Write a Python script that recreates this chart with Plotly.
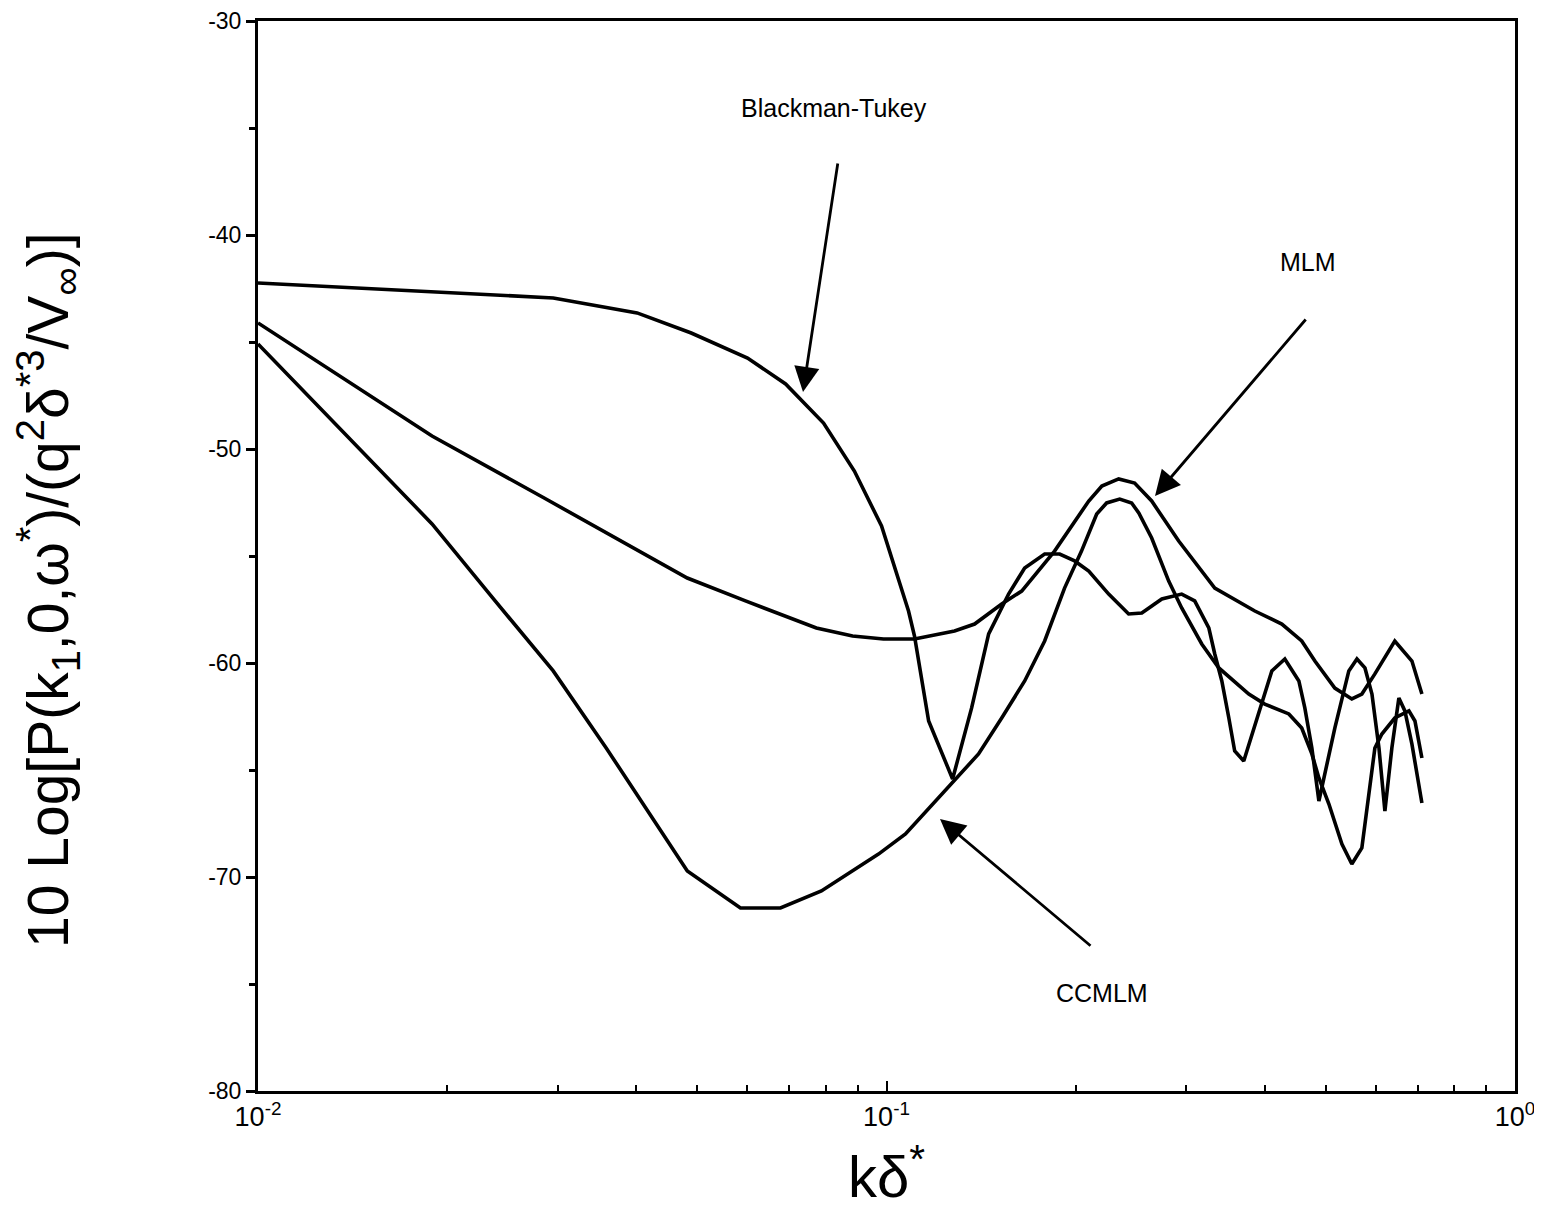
import plotly.graph_objects as go
import numpy as np

# ---- data ----
bt_k = [0.01, 0.0295, 0.0401, 0.0489, 0.0601, 0.0691, 0.0794, 0.0889, 0.0982, 0.1084, 0.1108,
        0.1167, 0.1274, 0.1366, 0.1454, 0.1564, 0.1659, 0.1785, 0.1886, 0.1992, 0.2098, 0.2257,
        0.2428, 0.2548, 0.2742, 0.2949, 0.3093, 0.3257, 0.3329, 0.3416, 0.3505, 0.3581, 0.3702,
        0.3955, 0.4103, 0.4303, 0.4530, 0.4630, 0.4751, 0.4875, 0.5168, 0.5440, 0.5604, 0.5771,
        0.5921, 0.6075, 0.6209, 0.6369, 0.6535, 0.6680, 0.6855, 0.7110]
bt_db = [-42.24, -42.94, -43.64, -44.58, -45.75, -46.96, -48.79, -51.03, -53.60, -57.57, -58.74,
         -62.71, -65.42, -62.10, -58.64, -56.78, -55.56, -54.91, -54.91, -55.23, -55.70, -56.78,
         -57.71, -57.66, -57.01, -56.78, -57.10, -58.36, -59.58, -60.84, -62.57, -64.11, -64.58,
         -61.78, -60.37, -59.81, -60.84, -62.10, -63.97, -66.45, -63.04, -60.37, -59.81, -60.23,
         -61.45, -63.97, -66.92, -63.97, -61.64, -62.24, -63.79, -66.54]

mlm_k = [0.01, 0.01892, 0.02853, 0.0482, 0.05965, 0.07734, 0.08831, 0.0989, 0.1108, 0.1283,
         0.1381, 0.1525, 0.1641, 0.1851, 0.2098, 0.2201, 0.2341, 0.2482, 0.2642, 0.2917, 0.3329,
         0.3855, 0.4256, 0.4578, 0.4804, 0.5168, 0.5500, 0.5706, 0.5985, 0.6438, 0.6855, 0.7110]
mlm_db = [-44.11, -49.39, -52.29, -56.03, -57.10, -58.36, -58.74, -58.88, -58.88, -58.50,
          -58.18, -57.24, -56.64, -54.77, -52.43, -51.73, -51.40, -51.59, -52.43, -54.30, -56.50,
          -57.57, -58.18, -58.97, -59.91, -61.17, -61.68, -61.45, -60.51, -58.97, -59.91, -61.45]

cc_k = [0.01, 0.01892, 0.02384, 0.02949, 0.03581, 0.0482, 0.05856, 0.06781, 0.07878, 0.09711,
        0.1072, 0.1279, 0.1401, 0.1525, 0.1659, 0.1785, 0.1920, 0.2043, 0.2160, 0.2240, 0.2350,
        0.2455, 0.2520, 0.2642, 0.2812, 0.2949, 0.3174, 0.3379, 0.3771, 0.3998, 0.4367, 0.4578,
        0.4751, 0.4875, 0.5057, 0.5304, 0.5500, 0.5706, 0.5854, 0.5985, 0.6140, 0.6438, 0.6780,
        0.6931, 0.7110]
cc_db = [-45.09, -53.50, -57.10, -60.37, -63.97, -69.72, -71.45, -71.45, -70.65, -68.93,
         -67.99, -65.51, -64.25, -62.57, -60.84, -58.97, -56.50, -54.77, -53.04, -52.52, -52.34,
         -52.52, -52.99, -54.16, -56.17, -57.43, -59.11, -60.23, -61.45, -61.92, -62.38, -63.04,
         -64.25, -65.37, -66.59, -68.46, -69.39, -68.64, -66.12, -63.97, -63.32, -62.57, -62.24,
         -62.71, -64.44]

y_ticks = [-80, -70, -60, -50, -40, -30]
y_ticktext = ["-80", "-70", "-60", "-50", "-40", "-30"]
x_ticks = [0.01, 0.1, 1.0]
x_ticktext = ["10<sup>-2</sup>", "10<sup>-1</sup>", "10<sup>0</sup>"]

labels = ["Blackman-Tukey", "MLM", "CCMLM"]

FONT = "Liberation Sans, Arial, Helvetica, sans-serif"

# the page body adds an 8px margin at the top-left of the figure
OFF = 8
W, H = 1542 - OFF, 1212 - OFF
# plotting frame in page pixels (reference), converted to figure pixels
L, R, T, B = 258 - OFF, 1515 - OFF, 21 - OFF, 1091 - OFF


def px2lx(px):  # page pixel -> log10(k)
    return -2 + 2 * (px - OFF - L) / (R - L)


def py2y(py):  # page pixel -> dB
    return -30 - 50 * (py - OFF - T) / (B - T)


def px2paper(px):
    return (px - OFF - L) / (R - L)


def py2paper(py):
    return (B - (py - OFF)) / (B - T)


fig = go.Figure()
for k, d in [(bt_k, bt_db), (mlm_k, mlm_db), (cc_k, cc_db)]:
    fig.add_trace(go.Scatter(x=k, y=d, mode="lines",
                             line=dict(color="black", width=3.6),
                             showlegend=False, hoverinfo="skip"))

minor_x = [m * 10.0 ** e for e in (-2, -1) for m in range(2, 10)]

fig.update_layout(
    width=W, height=H,
    margin=dict(l=L, r=W - R, t=T, b=H - B, autoexpand=False),
    paper_bgcolor="white", plot_bgcolor="white",
    font=dict(family=FONT, color="black"),
    xaxis=dict(type="log", range=[-2, 0], showgrid=False, zeroline=False, automargin=False,
               showline=True, linecolor="black", linewidth=3, mirror=True,
               ticks="inside", ticklen=10, tickwidth=2, tickcolor="black",
               tickvals=x_ticks, ticktext=x_ticktext, ticklabeloverflow="allow",
               tickfont=dict(size=27, family=FONT),
               minor=dict(tickvals=minor_x, ticks="inside", ticklen=6,
                          tickwidth=2, tickcolor="black", showgrid=False)),
    yaxis=dict(range=[-80, -30], showgrid=False, zeroline=False, automargin=False,
               showline=True, linecolor="black", linewidth=3, mirror=True,
               ticks="outside", ticklen=9, tickwidth=2.5, tickcolor="black",
               tickvals=y_ticks, ticktext=y_ticktext, ticklabeloverflow="allow",
               tickfont=dict(size=23, family=FONT),
               minor=dict(dtick=5, ticks="outside", ticklen=6, tickwidth=2.5,
                          tickcolor="black", showgrid=False)),
)

# arrows: (head px, head py, tail px, tail py) in page pixels
arrows = [
    (803, 392, 838, 162),
    (1155, 496, 1307, 318),
    (940, 819, 1092, 947),
]
for hx, hy, tx, ty in arrows:
    fig.add_annotation(x=px2lx(hx), y=py2y(hy), xref="x", yref="y",
                       ax=tx - hx, ay=ty - hy,
                       showarrow=True, arrowhead=2, arrowsize=1.8, arrowwidth=2.8,
                       arrowcolor="black", text="")

label_px = [(834, 108), (1308, 262), (1102, 993)]
for t, (px, py) in zip(labels, label_px):
    fig.add_annotation(x=px2lx(px), y=py2y(py), xref="x", yref="y", text=t, showarrow=False,
                       font=dict(size=25, family=FONT, color="black"),
                       xanchor="center", yanchor="middle")

# axis titles
fig.add_annotation(xref="paper", yref="paper", x=px2paper(48), y=py2paper(590),
                   text="10 Log[P(k<sub>1</sub>,0,ω<sup>*</sup>)/(q<sup>2</sup>δ<sup>*3</sup>/V<sub>∞</sub>)]",
                   textangle=-90, showarrow=False, xanchor="center", yanchor="middle",
                   font=dict(size=57, family=FONT, color="black"))
fig.add_annotation(xref="paper", yref="paper", x=px2paper(886), y=py2paper(1172),
                   text="kδ<sup>*</sup>", showarrow=False, xanchor="center", yanchor="middle",
                   font=dict(size=58, family=FONT, color="black"))

fig.write_html("out.html")
